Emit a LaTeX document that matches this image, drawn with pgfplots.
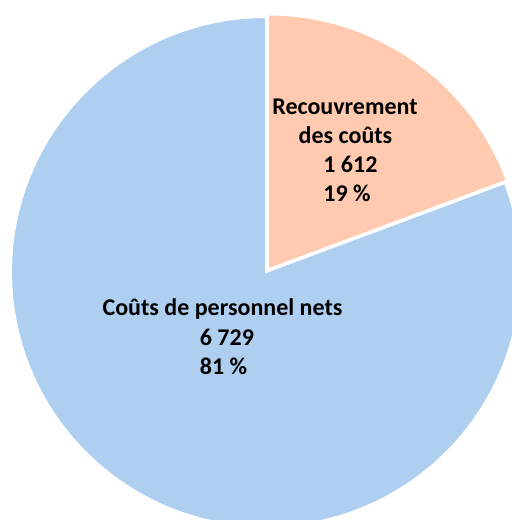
\documentclass[border=0pt]{standalone}
\usepackage{pgfplots}
\pgfplotsset{compat=1.18}
\usepackage{pgfplotstable}
\usepackage{fontspec}
\setmainfont{Carlito}
\definecolor{peach}{HTML}{FFCAAF}
\definecolor{lblue}{HTML}{AECFF0}
\pgfplotstableread{
label value
Recouvrement 1612
Personnel 6729
}\piedata
\begin{document}
\begin{tikzpicture}
\pgfplotstablegetelem{0}{value}\of\piedata \let\va\pgfplotsretval
\pgfplotstablegetelem{1}{value}\of\piedata \let\vb\pgfplotsretval
\pgfmathsetmacro{\angA}{\va/(\va+\vb)*360}
\pgfmathsetmacro{\endA}{90-\angA}
\pgfmathsetmacro{\endB}{\endA+360}
\begin{axis}[name=ax, x=0.5pt, y=0.5pt, xmin=0, xmax=512, ymin=0, ymax=520,
  hide axis, scale only axis, clip=true]
\fill[lblue, draw=white, line width=1pt] (axis cs:266,248) -- ++(90:127.5pt)
  arc[start angle=90, end angle=\endB, radius=127.5pt] -- cycle;
\fill[peach, draw=white, line width=1pt] (axis cs:268,250.5) -- ++(90:127.5pt)
  arc[start angle=90, end angle=\endA, radius=127.5pt] -- cycle;
\begin{scope}[every node/.style={font=\bfseries\fontsize{12pt}{15pt}\selectfont, inner sep=0pt}]
\node[anchor=base] at (axis cs:222.5,204) {Coûts de personnel nets};
\node[anchor=base west] at (axis cs:199.5,174.5) {6 729};
\node[anchor=base west] at (axis cs:199.5,145) {81 \%};
\node[anchor=base] at (axis cs:345,405) {Recouvrement};
\node[anchor=base] at (axis cs:345.5,376) {des coûts};
\node[anchor=base west] at (axis cs:323,347) {1 612};
\node[anchor=base west] at (axis cs:323,318) {19 \%};
\end{scope}
\end{axis}
\pgfresetboundingbox
\useasboundingbox (ax.south west) rectangle (ax.north east);
\end{tikzpicture}
\end{document}
